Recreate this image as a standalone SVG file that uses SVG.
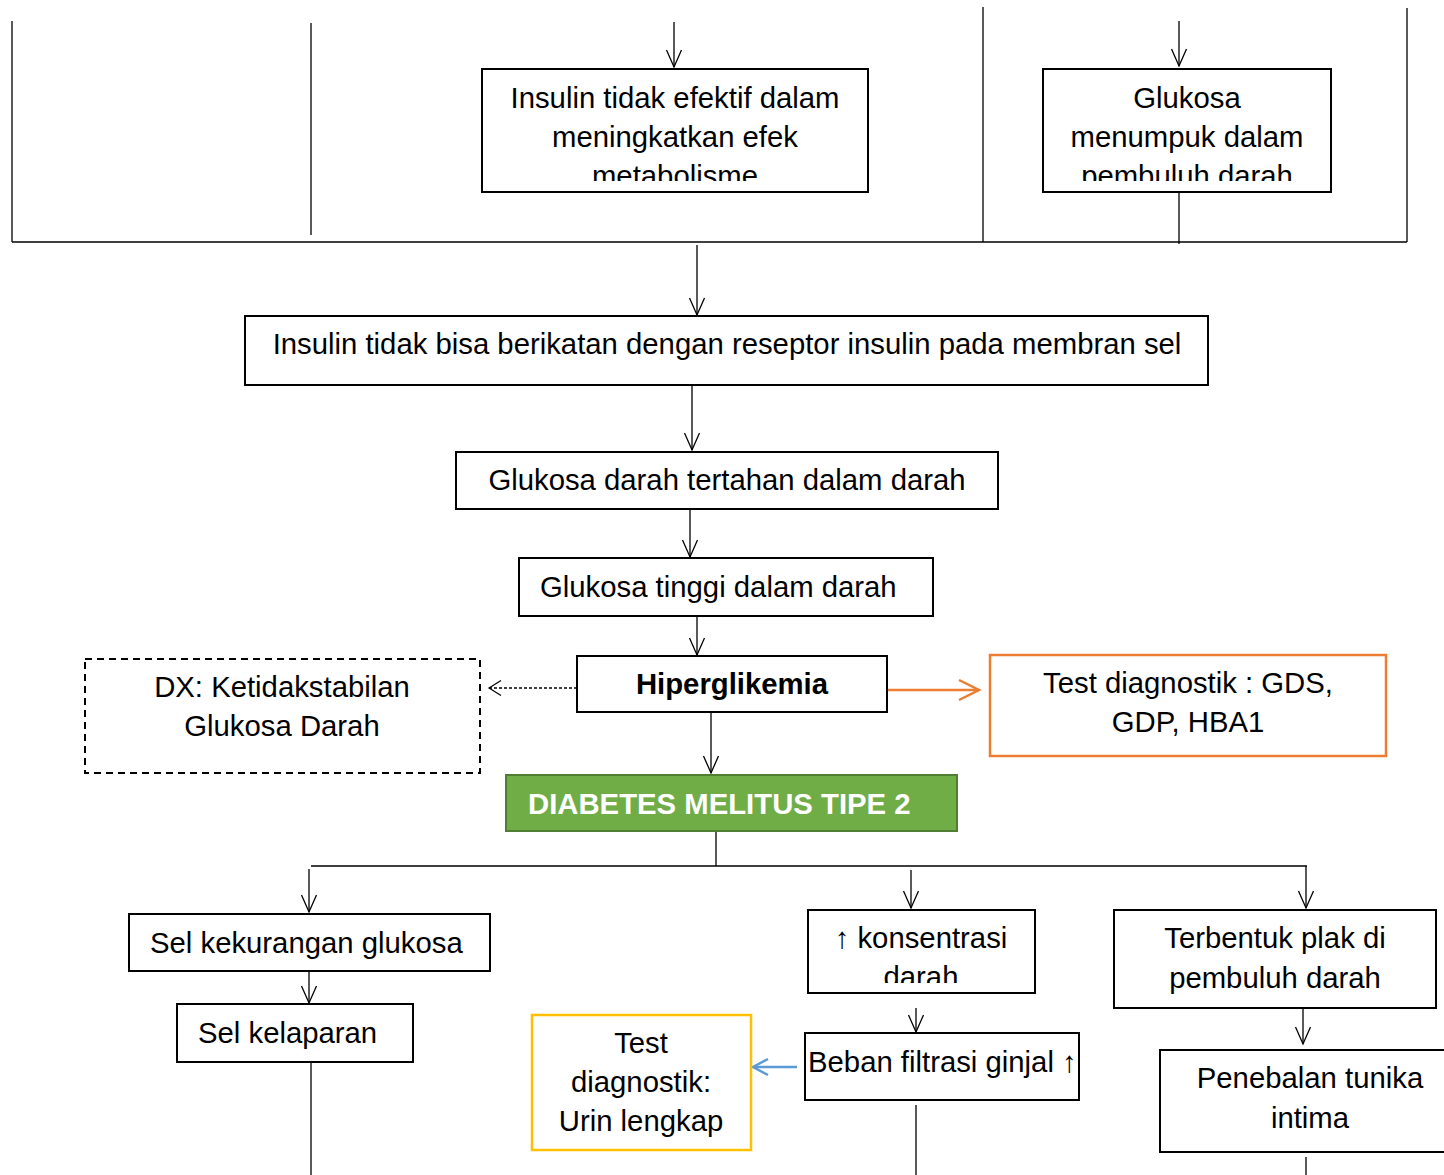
<svg xmlns="http://www.w3.org/2000/svg" width="1444" height="1175" viewBox="0 0 1444 1175">
<style>
.box{fill:#fff;stroke:#000;stroke-width:2}
.ln{fill:none;stroke:#000;stroke-width:1.3}
.t{font-family:"Liberation Sans",Arial,sans-serif;font-size:29.3px;fill:#000}
.c{text-anchor:middle}
.b{font-weight:bold}
</style>
<defs>
<marker id="ah" markerUnits="userSpaceOnUse" viewBox="-19 -10 21 20" refX="0" refY="0" markerWidth="21" markerHeight="20" orient="auto">
<path d="M-17,-7.5 L0,0 L-17,7.5" fill="none" stroke="#000" stroke-width="1.3"/>
</marker>
<marker id="ahd" markerUnits="userSpaceOnUse" viewBox="-14 -10 16 20" refX="0" refY="0" markerWidth="16" markerHeight="20" orient="auto">
<path d="M-12,-7.5 L0,0 L-12,7.5" fill="none" stroke="#000" stroke-width="1.2"/>
</marker>
<marker id="aho" markerUnits="userSpaceOnUse" viewBox="-22 -12 25 24" refX="0" refY="0" markerWidth="25" markerHeight="24" orient="auto">
<path d="M-20,-10 L0,0 L-20,10" fill="none" stroke="#ed7d31" stroke-width="2.5"/>
</marker>
<marker id="ahb" markerUnits="userSpaceOnUse" viewBox="-18 -11 21 22" refX="0" refY="0" markerWidth="21" markerHeight="22" orient="auto">
<path d="M-15,-8 L0,0 L-15,8" fill="none" stroke="#5b9bd5" stroke-width="2.5"/>
</marker>
<clipPath id="cp1"><rect x="483" y="70" width="384" height="111"/></clipPath>
<clipPath id="cp2"><rect x="1044" y="70" width="286" height="111"/></clipPath>
<clipPath id="cp3"><rect x="809" y="911" width="225" height="72"/></clipPath>
</defs>

<g id="connectors">
<line class="ln" x1="12" y1="21" x2="12" y2="242"/>
<line class="ln" x1="311" y1="23" x2="311" y2="235"/>
<line class="ln" x1="12" y1="242" x2="1407" y2="242"/>
<line class="ln" x1="983" y1="7" x2="983" y2="242"/>
<line class="ln" x1="1407" y1="8" x2="1407" y2="242"/>
<line class="ln" x1="674" y1="22" x2="674" y2="67" marker-end="url(#ah)"/>
<line class="ln" x1="1179" y1="21" x2="1179" y2="66" marker-end="url(#ah)"/>
<line class="ln" x1="1179" y1="193" x2="1179" y2="244"/>
<line class="ln" x1="697" y1="245" x2="697" y2="315" marker-end="url(#ah)"/>
<line class="ln" x1="692" y1="385" x2="692" y2="450" marker-end="url(#ah)"/>
<line class="ln" x1="690" y1="509" x2="690" y2="557" marker-end="url(#ah)"/>
<line class="ln" x1="697" y1="616" x2="697" y2="655" marker-end="url(#ah)"/>
<line class="ln" x1="577" y1="688" x2="489" y2="688" stroke-dasharray="3,2" stroke-width="1" marker-end="url(#ahd)"/>
<line x1="887" y1="690" x2="979" y2="690" stroke="#ed7d31" stroke-width="2.5" marker-end="url(#aho)"/>
<line class="ln" x1="711" y1="712" x2="711" y2="773" marker-end="url(#ah)"/>
<line class="ln" x1="716" y1="832" x2="716" y2="866"/>
<line class="ln" x1="311" y1="866" x2="1307" y2="866"/>
<line class="ln" x1="309" y1="869" x2="309" y2="912" marker-end="url(#ah)"/>
<line class="ln" x1="911" y1="870" x2="911" y2="908" marker-end="url(#ah)"/>
<line class="ln" x1="1306" y1="866" x2="1306" y2="908" marker-end="url(#ah)"/>
<line class="ln" x1="309" y1="972" x2="309" y2="1003" marker-end="url(#ah)"/>
<line class="ln" x1="311" y1="1062" x2="311" y2="1175"/>
<line class="ln" x1="916" y1="1008" x2="916" y2="1032" marker-end="url(#ah)"/>
<line x1="797" y1="1067" x2="753" y2="1067" stroke="#5b9bd5" stroke-width="2.5" marker-end="url(#ahb)"/>
<line class="ln" x1="916" y1="1105" x2="916" y2="1175"/>
<line class="ln" x1="1303" y1="1007" x2="1303" y2="1044" marker-end="url(#ah)"/>
<line class="ln" x1="1306" y1="1157" x2="1306" y2="1175"/>
</g>

<g id="n-insulin-efektif">
<rect class="box" x="482" y="69" width="386" height="123"/>
<g clip-path="url(#cp1)">
<text class="t c" x="675" y="108">Insulin tidak efektif dalam</text>
<text class="t c" x="675" y="147">meningkatkan efek</text>
<text class="t c" x="675" y="186">metabolisme</text>
</g>
</g>

<g id="n-glukosa-menumpuk">
<rect class="box" x="1043" y="69" width="288" height="123"/>
<g clip-path="url(#cp2)">
<text class="t c" x="1187" y="108">Glukosa</text>
<text class="t c" x="1187" y="147">menumpuk dalam</text>
<text class="t c" x="1187" y="186">pembuluh darah</text>
</g>
</g>

<g id="n-insulin-reseptor">
<rect class="box" x="245" y="316" width="963" height="69"/>
<text class="t c" x="727" y="354">Insulin tidak bisa berikatan dengan reseptor insulin pada membran sel</text>
</g>

<g id="n-glukosa-tertahan">
<rect class="box" x="456" y="452" width="542" height="57"/>
<text class="t c" x="727" y="490">Glukosa darah tertahan dalam darah</text>
</g>

<g id="n-glukosa-tinggi">
<rect class="box" x="519" y="558" width="414" height="58"/>
<text class="t" x="540" y="597">Glukosa tinggi dalam darah</text>
</g>

<g id="n-hiperglikemia">
<rect class="box" x="577" y="656" width="310" height="56"/>
<text class="t c b" x="732" y="694">Hiperglikemia</text>
</g>

<g id="n-dx">
<rect x="85" y="659" width="395" height="114" fill="#fff" stroke="#000" stroke-width="2" stroke-dasharray="7,5"/>
<text class="t c" x="282" y="697">DX: Ketidakstabilan</text>
<text class="t c" x="282" y="736">Glukosa Darah</text>
</g>

<g id="n-test-gds">
<rect x="990" y="655" width="396" height="101" fill="#fff" stroke="#ed7d31" stroke-width="2.5"/>
<text class="t c" x="1188" y="693">Test diagnostik : GDS,</text>
<text class="t c" x="1188" y="732">GDP, HBA1</text>
</g>

<g id="n-dm2">
<rect x="506" y="775" width="451" height="56" fill="#70ad47" stroke="#507e32" stroke-width="2"/>
<text class="t b" x="528" y="814" style="fill:#fff">DIABETES MELITUS TIPE 2</text>
</g>

<g id="n-sel-kekurangan">
<rect class="box" x="129" y="914" width="361" height="57"/>
<text class="t" x="150" y="953">Sel kekurangan glukosa</text>
</g>

<g id="n-sel-kelaparan">
<rect class="box" x="177" y="1004" width="236" height="58"/>
<text class="t" x="198" y="1043">Sel kelaparan</text>
</g>

<g id="n-konsentrasi">
<rect class="box" x="808" y="910" width="227" height="83"/>
<g clip-path="url(#cp3)">
<text class="t c" x="921" y="948">↑ konsentrasi</text>
<text class="t c" x="921" y="987">darah</text>
</g>
</g>

<g id="n-beban">
<rect class="box" x="805" y="1033" width="274" height="67"/>
<text class="t" x="808" y="1072">Beban filtrasi ginjal ↑</text>
</g>

<g id="n-test-urin">
<rect x="532" y="1015" width="219" height="135" fill="#fff" stroke="#ffc000" stroke-width="2.5"/>
<text class="t c" x="641" y="1053">Test</text>
<text class="t c" x="641" y="1092">diagnostik:</text>
<text class="t c" x="641" y="1131">Urin lengkap</text>
</g>

<g id="n-plak">
<rect class="box" x="1114" y="910" width="322" height="98"/>
<text class="t c" x="1275" y="948">Terbentuk plak di</text>
<text class="t c" x="1275" y="988">pembuluh darah</text>
</g>

<g id="n-penebalan">
<rect class="box" x="1160" y="1050" width="300" height="102"/>
<text class="t c" x="1310" y="1088">Penebalan tunika</text>
<text class="t c" x="1310" y="1128">intima</text>
</g>
</svg>
